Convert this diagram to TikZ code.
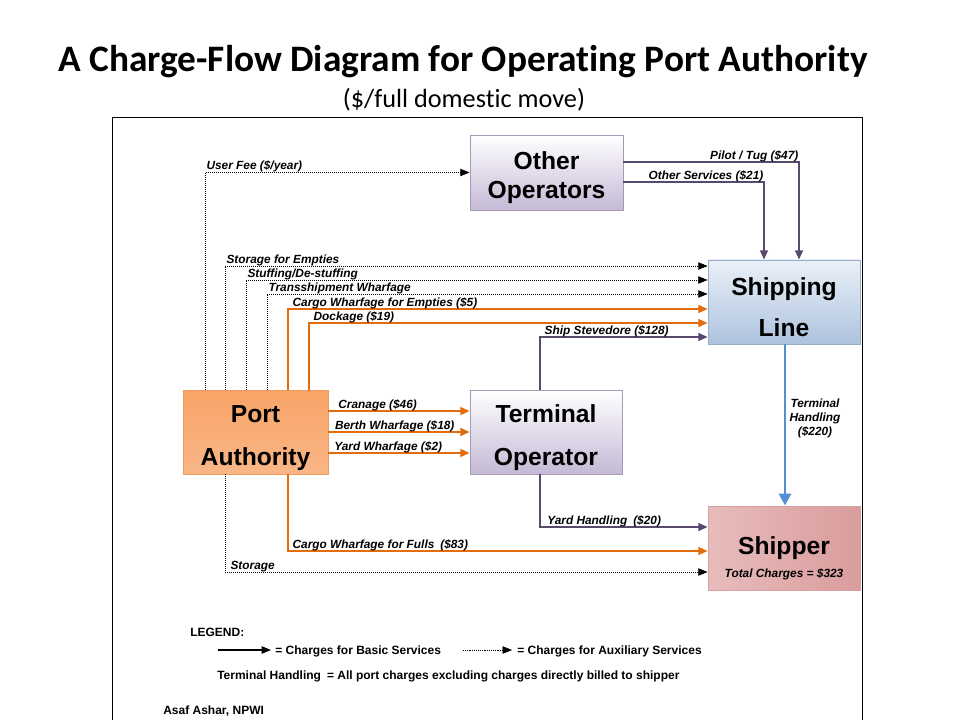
\documentclass[tikz,border=0pt]{standalone}
\usepackage{fontspec}
\setmainfont{Liberation Sans}
\newfontfamily\titlefont[Ligatures=NoCommon]{Carlito}
\usetikzlibrary{arrows.meta}
\definecolor{orangeline}{HTML}{E46C0A}
\definecolor{purpline}{HTML}{574A6E}
\definecolor{blueline}{HTML}{558ED5}
\definecolor{lav}{HTML}{C5B9D6}
\definecolor{lavborder}{HTML}{A39BB3}
\definecolor{sltop}{HTML}{EAF0F7}
\definecolor{slblue}{HTML}{AEC3DF}
\definecolor{slborder}{HTML}{97ADCB}
\definecolor{paor}{HTML}{F38633}
\definecolor{paortop}{HTML}{F8A467}
\definecolor{paorbot}{HTML}{F9B686}
\definecolor{paborder}{HTML}{F09A5C}
\definecolor{shipdark}{HTML}{DA9C9C}
\definecolor{shipmid}{HTML}{F5E2E2}
\definecolor{shipleft}{HTML}{E8BCBC}
\definecolor{shipborder}{HTML}{D4A0A0}
\newcommand\tallrule[1]{\rule{0pt}{#1}}
\begin{document}
\begin{tikzpicture}[x=0.75pt,y=-0.75pt,
  box/.style={draw, inner sep=0pt, align=center, line width=0.6pt,
    font=\bfseries\fontsize{18.5}{32}\selectfont},
  lbl/.style={font=\bfseries\itshape\fontsize{8.9}{10}\selectfont, inner sep=0.9pt},
  lblw/.style={lbl, anchor=base west, yshift=2pt},
  lble/.style={lbl, anchor=base east, yshift=2pt},
  legtxt/.style={font=\bfseries\fontsize{9}{11}\selectfont, inner sep=0pt, anchor=west},
  aux/.style={densely dotted, line width=0.5pt, -{Triangle[length=7pt,width=5.5pt]}},
  auxleg/.style={densely dotted, line width=0.4pt, -{Triangle[length=7pt,width=5.5pt]}},
  basic/.style={line width=1.2pt, draw=orangeline, -{Triangle[length=7pt,width=6pt]}},
  purp/.style={line width=1.2pt, draw=purpline, -{Triangle[length=7pt,width=6pt]}},
  thick blue/.style={line width=2.2pt, draw=blueline, -{Triangle[length=9pt,width=9pt]}},
  solidleg/.style={line width=0.8pt, -{Triangle[length=7pt,width=5.5pt]}}
]
\useasboundingbox (0,0) rectangle (960,720);

% title
\node[font=\titlefont\bfseries\fontsize{28}{32}\selectfont] (title) at (463,62) {A Charge-Flow Diagram for Operating Port Authority};
\node[font=\titlefont\fontsize{19.7}{22}\selectfont] (subtitle) at (464,100) {(\$/full domestic move)};

% frame
\draw[line width=0.6pt] (112,720) -- (112,117) -- (862,117) -- (862,720);

% boxes
\node[box, draw=lavborder, top color=white, bottom color=lav,
  minimum width=114.75pt, minimum height=56.25pt,
  font=\bfseries\fontsize{18.5}{22}\selectfont] (oo) at (546.5,172.5) {\tallrule{21pt}Other\\Operators};
\node[box, draw=slborder, top color=sltop, bottom color=slblue,
  minimum width=114pt, minimum height=63pt,
  font=\bfseries\fontsize{18.5}{31}\selectfont] (sl) at (784,302) {\tallrule{21pt}Shipping\\Line};
\node[box, draw=paborder, top color=paortop, middle color=paor, bottom color=paorbot,
  minimum width=108.75pt, minimum height=63pt] (pa) at (255.5,432) {\tallrule{22pt}Port\\Authority};
\node[box, draw=lavborder, top color=white, bottom color=lav,
  minimum width=114pt, minimum height=63pt] (to) at (546,432) {\tallrule{21.5pt}Terminal\\Operator};
\node[box, draw=shipborder, left color=shipleft, middle color=shipmid, right color=shipdark,
  minimum width=114pt, minimum height=63pt] (ship) at (784,548) {Shipper};
\node[lbl] (total) at (784,574) {Total Charges = \$323};

% coordinates
\coordinate (cUF) at (205,172);
\coordinate (cSE) at (225,266);
\coordinate (cSD) at (246,280);
\coordinate (cTW) at (267,294);
\coordinate (cCE) at (288,309);
\coordinate (cDK) at (309,323);
\coordinate (cSS) at (540,337);
\coordinate (cCR) at (0,411);
\coordinate (cBW) at (0,432);
\coordinate (cYW) at (0,453);
\coordinate (cYH) at (540,527);
\coordinate (cCF) at (288,551);
\coordinate (cST) at (225,572);
\coordinate (cPT) at (799,162);
\coordinate (cOS) at (764,182);
\coordinate (cTH) at (785,0);

% auxiliary (dotted)
\draw[aux] (pa.north -| cUF) |- (oo.west) node[lblw,pos=0.5] {User Fee (\$/year)};
\draw[aux] (pa.north -| cSE) |- (sl.west |- cSE) node[lblw,pos=0.5] {Storage for Empties};
\draw[aux] (pa.north -| cSD) |- (sl.west |- cSD) node[lblw,pos=0.5] {Stuffing/De-stuffing};
\draw[aux] (pa.north -| cTW) |- (sl.west |- cTW) node[lblw,pos=0.5] {Transshipment Wharfage};
\draw[aux] (pa.south -| cST) |- (ship.west |- cST) node[lblw,pos=0.5,xshift=3pt] {Storage};

% basic (orange)
\draw[basic] (pa.north -| cCE) |- (sl.west |- cCE) node[lblw,pos=0.5,xshift=2pt] {Cargo Wharfage for Empties (\$5)};
\draw[basic] (pa.north -| cDK) |- (sl.west |- cDK) node[lblw,pos=0.5,xshift=2pt] {Dockage (\$19)};
\draw[basic] (pa.east |- cCR) -- (to.west |- cCR) node[lblw,pos=0,xshift=6pt] {Cranage (\$46)};
\draw[basic] (pa.east |- cBW) -- (to.west |- cBW) node[lblw,pos=0,xshift=3.5pt] {Berth Wharfage (\$18)};
\draw[basic] (pa.east |- cYW) -- (to.west |- cYW) node[lblw,pos=0,xshift=3pt] {Yard Wharfage (\$2)};
\draw[basic] (pa.south -| cCF) |- (ship.west |- cCF) node[lblw,pos=0.5,xshift=2pt] {Cargo Wharfage for Fulls\enspace(\$83)};

% purple
\draw[purp] (to.north -| cSS) |- (sl.west |- cSS) node[lblw,pos=0.5,xshift=2pt] {Ship Stevedore (\$128)};
\draw[purp] (to.south -| cYH) |- (ship.west |- cYH) node[lblw,pos=0.5,xshift=4pt] {Yard Handling\enspace(\$20)};
\draw[purp] (oo.east |- cPT) -| (sl.north -| cPT) node[lble,pos=0.5,xshift=1pt] {Pilot / Tug (\$47)};
\draw[purp] (oo.east |- cOS) -| (sl.north -| cOS) node[lble,pos=0.5,xshift=1pt] {Other Services (\$21)};

% terminal handling
\draw[thick blue] (sl.south -| cTH) -- (ship.north -| cTH);
\node[lbl, align=center, font=\bfseries\itshape\fontsize{8.9}{10.5}\selectfont] (thl) at (815,418) {Terminal\\Handling\\(\$220)};

% legend
\node[legtxt] (leg) at (190,632) {LEGEND:};
\coordinate (lsA) at (218,650);
\coordinate (lsB) at (271,650);
\coordinate (ldA) at (463,650);
\coordinate (ldB) at (512,650);
\draw[solidleg] (lsA) -- (lsB);
\node[legtxt] (legbasic) at (275,651) {= Charges for Basic Services};
\draw[auxleg] (ldA) -- (ldB);
\node[legtxt] (legaux) at (517,651) {= Charges for Auxiliary Services};
\node[legtxt] (legth) at (217,676) {Terminal Handling\enspace= All port charges excluding charges directly billed to shipper};
\node[legtxt] (author) at (163,711) {Asaf Ashar, NPWI};
\end{tikzpicture}
\end{document}
